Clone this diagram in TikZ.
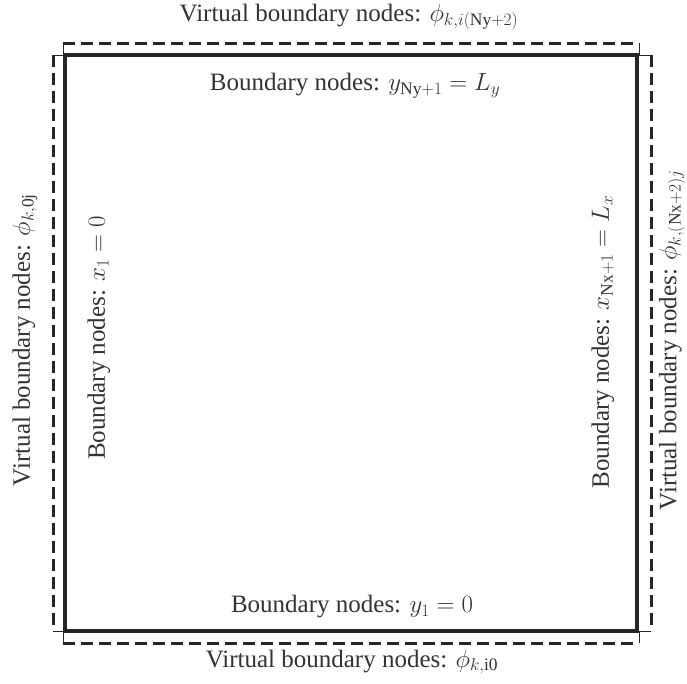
\documentclass[tikz,border=0pt]{standalone}
\usepackage{fontspec}
\setmainfont{Liberation Serif}
\begin{document}
\begin{tikzpicture}[x=1pt,y=-1pt,
  solidbox/.style={line width=4pt,draw=black!85},
  dashline/.style={line width=3pt,draw=black!85,dash pattern=on 12pt off 6pt},
  tick/.style={line width=0.8pt,draw=black!85},
  lbl/.style={font=\fontsize{25}{27}\selectfont,inner sep=0pt,text=black!80}]
\useasboundingbox (0,0) rectangle (687,683);
% solid domain
\coordinate (A) at (65,55);
\coordinate (B) at (637,55);
\coordinate (C) at (637,631);
\coordinate (D) at (65,631);
\draw[solidbox] (A) -- (B) -- (C) -- (D) -- cycle;
% virtual boundaries
\coordinate (t1) at (63,43);  \coordinate (t2) at (639,43);
\coordinate (b1) at (63,643); \coordinate (b2) at (639,643);
\coordinate (l1) at (53,55);  \coordinate (l2) at (53,631);
\coordinate (r1) at (651,55); \coordinate (r2) at (651,631);
\draw[dashline] (t1) -- (t2);
\draw[dashline] (b1) -- (b2);
\draw[dashline] (l1) -- (l2);
\draw[dashline] (r1) -- (r2);
\draw[tick] (t1) -- (t1 |- A);
\draw[tick] (t2) -- (t2 |- B);
\draw[tick] (b1) -- (b1 |- D);
\draw[tick] (b2) -- (b2 |- C);
\draw[tick] (l1) -- (l1 -| A);
\draw[tick] (l2) -- (l2 -| D);
\draw[tick] (r1) -- (r1 -| B);
\draw[tick] (r2) -- (r2 -| C);
% labels
\node[lbl] (vt) at (349,17) {Virtual boundary nodes: $\phi_{k,i(\mathrm{Ny}+2)}$};
\node[lbl] (bt) at (355,86) {Boundary nodes: $y_{\mathrm{Ny}+1}=L_y$};
\node[lbl] (bb) at (352,607) {Boundary nodes: $y_1=0$};
\node[lbl] (vb) at (352,662) {Virtual boundary nodes: $\phi_{k,\mathrm{i0}}$};
\node[lbl,rotate=90] (vl) at (25,340) {Virtual boundary nodes: $\phi_{k,\mathrm{0j}}$};
\node[lbl,rotate=90] (bl) at (99,338) {Boundary nodes: $x_1=0$};
\node[lbl,rotate=90] (br) at (603,342) {Boundary nodes: $x_{\mathrm{Nx}+1}=L_x$};
\node[lbl,rotate=90] (vr) at (672,340) {Virtual boundary nodes: $\phi_{k,(\mathrm{Nx}+2)j}$};
\end{tikzpicture}
\end{document}
